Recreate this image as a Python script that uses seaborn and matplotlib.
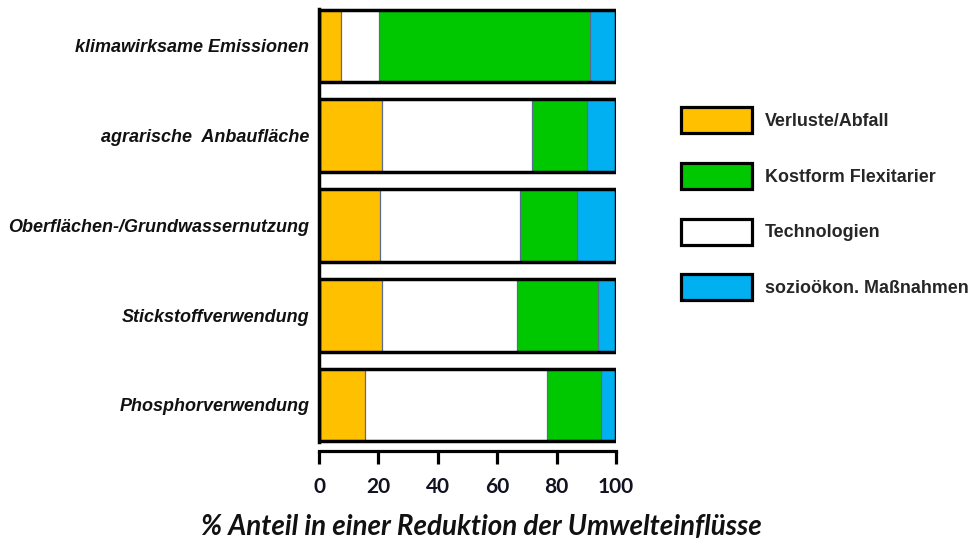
import matplotlib
matplotlib.use("Agg")
import matplotlib.pyplot as plt
import seaborn as sns
import pandas as pd
import numpy as np
from matplotlib.patches import Patch

categories = ["klimawirksame Emissionen", "agrarische  Anbaufläche",
              "Oberflächen-/Grundwassernutzung", "Stickstoffverwendung",
              "Phosphorverwendung"]
verluste = [7.3, 21.3, 20.7, 21.3, 15.5]
technologien = [13.0, 50.5, 47.1, 45.4, 61.1]
kostform = [71.0, 18.6, 19.2, 27.1, 18.2]
sozio = [8.7, 9.6, 13.0, 6.2, 5.2]
xticks = [0, 20, 40, 60, 80, 100]
series_names = ["Verluste/Abfall", "Kostform Flexitarier", "Technologien", "sozioökon. Maßnahmen"]

c_orange = "#FFC000"
c_green = "#00C800"
c_white = "#FFFFFF"
c_blue = "#00B0F0"
sep = "#5a6a90"

df = pd.DataFrame({"cat": categories, "v": verluste, "t": technologien,
                   "k": kostform, "s": sozio})
df["c1"] = df["v"]
df["c2"] = df["c1"] + df["t"]
df["c3"] = df["c2"] + df["k"]
df["c4"] = df["c3"] + df["s"]

sns.set_style("white")
plt.rcParams["font.family"] = ["Liberation Sans", "DejaVu Sans"]

fig = plt.figure(figsize=(9.72, 5.46), dpi=100)
ax = fig.add_axes([319/972, 1 - 451/546, 297/972, 450/546])

W = 0.81
for col, color in [("c4", c_blue), ("c3", c_green), ("c2", c_white), ("c1", c_orange)]:
    sns.barplot(data=df, x=col, y="cat", orient="h", color=color, saturation=1,
                width=W, edgecolor=sep, linewidth=0.9, ax=ax)
sns.barplot(data=df, x="c4", y="cat", orient="h", fill=False, width=W,
            edgecolor="black", linewidth=2.5, ax=ax)

ax.set_xlim(0, 100)
ax.set_ylim(4.513, -0.5)
ax.set_xticks(xticks)
ax.set_xticklabels([str(t) for t in xticks], fontfamily="Lato", fontweight="bold",
                   fontsize=15, color="#111122")
ax.tick_params(axis="x", bottom=True, length=9.5, width=2.3, direction="out",
               pad=9, color="black")
ax.tick_params(axis="y", left=False, length=0, pad=7)
for lab in ax.get_yticklabels():
    lab.set_fontstyle("italic")
    lab.set_fontweight("bold")
    lab.set_fontsize(13)
    lab.set_color("#111111")
ax.set_ylabel("")
ax.set_xlabel("% Anteil in einer Reduktion der Umwelteinflüsse", fontfamily="Lato",
              fontstyle="italic", fontweight="bold", fontsize=20,
              color="#111111", va="center")
ax.xaxis.set_label_coords(0.547, -0.169)
sns.despine(ax=ax, top=True, right=True)
ax.spines["left"].set_linewidth(2.5)
ax.spines["left"].set_color("black")
ax.spines["left"].set_bounds(4.41, -0.41)
ax.spines["bottom"].set_linewidth(2.3)
ax.spines["bottom"].set_color("black")
ax.grid(False)

handles = [Patch(facecolor=c, edgecolor="black", linewidth=2.3)
           for c in [c_orange, c_green, c_white, c_blue]]
fs = 12.9
px = fs * 100 / 72
H = 26
hh = (H / px - 0.245) / 0.65
fig.legend(handles, series_names, loc="upper left",
           bbox_to_anchor=(681/972, 1 - 107/546), frameon=False,
           borderpad=0, borderaxespad=0,
           handlelength=71/px, handleheight=hh,
           labelspacing=(56 - hh * px + 7) / px,
           handletextpad=13/px,
           prop={"family": "Liberation Sans", "weight": "bold", "size": fs})

fig.savefig("out.png", dpi=100)
